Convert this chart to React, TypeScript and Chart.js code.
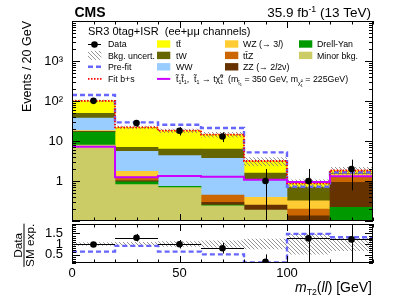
import React, { useEffect, useRef } from 'react';
import { Chart, registerables } from 'chart.js';

Chart.register(...registerables);

const FONT = '"Liberation Sans", Arial, Helvetica, sans-serif';

// ---------------- data ----------------
const binEdges = [0, 20, 40, 60, 80, 100, 120, 140];
const binLabels = ['0-20', '20-40', '40-60', '60-80', '80-100', '100-120', '120-140'];
const dataObs = [101, 28, 18, 13, 1, 1, 2];
const bkgTT = [52, 15, 11.8, 8.2, 1.58, 0.18, 0.28];
const bkgTW = [11.6, 1.46, 2.0, 2.62, 0.52, 0.376, 0.05];
const bkgWW = [19.5, 3.75, 3.55, 3.24, 0.67, 0, 0];
const bkgWZ = [0.6, 0.5, 0, 0, 0.14, 0.12, 0.26];
const bkgTTZ = [0.4, 0.22, 0, 0.154, 0, 0.065, 0.31];
const bkgZZ = [0.3, 0.07, 0, 0.043, 0.063, 0.085, 0.71];
const bkgDY = [8.9, 0.15, 0.06, 0.01, 0, 0.02, 0.17];
const bkgMinor = [7.9, 0.81, 0.68, 0.24, 0.188, 0.03, 0.05];
const preFit = [141, 29.3, 25.5, 21.1, 5.2, 0.72, 1.65];
const signalT2tt = [7.2, 1.24, 1.33, 1.28, 1.08, 0.95, 1.31];
const bkgRelUnc = [0.06, 0.09, 0.12, 0.16, 0.25, 0.25, 0.22];
const ratioObs = [0.98, 1.3, 0.99, 0.8, 0.16, 1.27, 1.22];
const ratioErrUp = [0.1, 0.18, 0.2, 0.25, 0.35, 1.3, 1.2];
const ratioErrDown = [0.1, 0.18, 0.2, 0.25, 0.16, 1.27, 1.22];
const ratioPreFit = [0.64, 0.91, 0.64, 0.51, 0.13, 1.48, 1.32];
const ratioUnc = [0.08, 0.1, 0.13, 0.17, 0.25, 0.5, 0.33];
const logLabelValues = [1, 10, 100, 1000];
const logLabelTexts = ['1', '10', '10²', '10³'];
const ratioTickValues = [0.5, 1, 1.5];
const xTickValues = [0, 50, 100];

const COL = {
  tt: '#ffff00', tw: '#666600', ww: '#99ccff', wz: '#ffcc33', ttz: '#cc6600',
  zz: '#663300', dy: '#009900', minor: '#cccc66', sig: '#cc00ff', pre: '#6666ff', fit: '#ff0000',
};

const stackList = [
  { label: 'Minor bkg.', vals: bkgMinor, color: COL.minor },
  { label: 'Drell-Yan', vals: bkgDY, color: COL.dy },
  { label: 'ZZ', vals: bkgZZ, color: COL.zz },
  { label: 'ttZ', vals: bkgTTZ, color: COL.ttz },
  { label: 'WZ', vals: bkgWZ, color: COL.wz },
  { label: 'WW', vals: bkgWW, color: COL.ww },
  { label: 'tW', vals: bkgTW, color: COL.tw },
  { label: 'tt', vals: bkgTT, color: COL.tt },
];

const centers = binEdges.slice(0, -1).map((e, i) => (e + binEdges[i + 1]) / 2);
const totals = binLabels.map((_, i) => stackList.reduce((a, s) => a + s.vals[i], 0));

function stepPts(vals: number[]) {
  const pts = vals.map((v, i) => ({ x: binEdges[i], y: v }));
  pts.push({ x: binEdges[binEdges.length - 1], y: vals[vals.length - 1] });
  return pts;
}

// ---------------- rich text ----------------
type Seg = { t?: string; s?: number; dy?: number; it?: boolean; b?: boolean; up?: string; dn?: string };
function segFont(size: number, seg: Seg) {
  return `${seg.it ? 'italic ' : ''}${seg.b ? 'bold ' : ''}${size * (seg.s ?? 1)}px ${FONT}`;
}
function segWidth(ctx: CanvasRenderingContext2D, size: number, seg: Seg) {
  ctx.font = segFont(size, seg);
  if (seg.up !== undefined || seg.dn !== undefined) {
    return Math.max(ctx.measureText(seg.up || '').width, ctx.measureText(seg.dn || '').width);
  }
  return ctx.measureText(seg.t || '').width;
}
function richWidth(ctx: CanvasRenderingContext2D, size: number, segs: Seg[]) {
  return segs.reduce((a, s) => a + segWidth(ctx, size, s), 0);
}
function drawRich(ctx: CanvasRenderingContext2D, x: number, y: number, size: number, segs: Seg[], color = '#000') {
  ctx.save();
  ctx.fillStyle = color;
  ctx.textAlign = 'left';
  ctx.textBaseline = 'alphabetic';
  let cx = x;
  for (const seg of segs) {
    const w = segWidth(ctx, size, seg);
    const dy = (seg.dy || 0) * size;
    if (seg.up !== undefined || seg.dn !== undefined) {
      if (seg.up) ctx.fillText(seg.up, cx, y + dy - size * 0.4);
      if (seg.dn) ctx.fillText(seg.dn, cx, y + dy + size * 0.22);
    } else {
      ctx.fillText(seg.t || '', cx, y + dy);
    }
    cx += w;
  }
  ctx.restore();
  return cx - x;
}

function makeHatch(): any {
  const c = document.createElement('canvas');
  c.width = 4;
  c.height = 4;
  const g = c.getContext('2d')!;
  g.strokeStyle = '#7a7a7a';
  g.lineWidth = 0.8;
  g.beginPath();
  for (const k of [-4, 0, 4]) {
    g.moveTo(k, 0);
    g.lineTo(k + 4, 4);
  }
  g.stroke();
  return g.createPattern(c, 'repeat') || '#999';
}

function hLine(ctx: CanvasRenderingContext2D, x1: number, x2: number, y: number) {
  ctx.beginPath();
  ctx.moveTo(x1, y);
  ctx.lineTo(x2, y);
  ctx.stroke();
}

function drawXTicks(ctx: CanvasRenderingContext2D, chart: any, xs: any) {
  const a = chart.chartArea;
  ctx.strokeStyle = '#000';
  ctx.lineWidth = 1;
  for (let v = 0; v <= 140; v += 10) {
    const p = Math.round(xs.getPixelForValue(v)) + 0.5;
    const len = v % 50 === 0 ? 7 : 3.5;
    ctx.beginPath();
    ctx.moveTo(p, a.bottom);
    ctx.lineTo(p, a.bottom - len);
    ctx.moveTo(p, a.top);
    ctx.lineTo(p, a.top + len);
    ctx.stroke();
  }
}

function drawFrame(ctx: CanvasRenderingContext2D, chart: any) {
  const a = chart.chartArea;
  ctx.strokeStyle = '#000';
  ctx.lineWidth = 1;
  ctx.strokeRect(Math.round(a.left) + 0.5, Math.round(a.top) + 0.5, Math.round(a.width) - 1, Math.round(a.height) - 1);
}

function mainPlugin(hatch: any) {
  return {
    id: 'mainDeco',
    afterDatasetsDraw(chart: any) {
      const { ctx, chartArea: a, scales } = chart;
      const xs = scales.xl;
      const ys = scales.y;
      ctx.save();
      ctx.beginPath();
      ctx.rect(a.left, a.top, a.width, a.height);
      ctx.clip();
      ctx.strokeStyle = '#000';
      ctx.lineWidth = 1;
      dataObs.forEach((v, i) => {
        const e = Math.sqrt(v);
        const px = Math.round(xs.getPixelForValue(centers[i])) + 0.5;
        const y1 = ys.getPixelForValue(v + e);
        const y2 = v - e > 0 ? ys.getPixelForValue(v - e) : a.bottom;
        ctx.beginPath();
        ctx.moveTo(px, y1);
        ctx.lineTo(px, y2);
        ctx.stroke();
      });
      ctx.restore();
    },
    afterDraw(chart: any) {
      const { ctx, chartArea: a, scales } = chart;
      const ys = scales.y;
      ctx.save();
      drawFrame(ctx, chart);
      ctx.strokeStyle = '#000';
      ctx.lineWidth = 1;
      for (let d = -1; d <= 4; d++) {
        for (let k = 1; k <= 9; k++) {
          const v = k * Math.pow(10, d);
          if (v < 0.1 - 1e-9 || v > 10000 + 1e-6) continue;
          const p = Math.round(ys.getPixelForValue(v)) + 0.5;
          const len = k === 1 ? 8 : 4;
          ctx.beginPath();
          ctx.moveTo(a.left, p);
          ctx.lineTo(a.left + len, p);
          ctx.moveTo(a.right, p);
          ctx.lineTo(a.right - len, p);
          ctx.stroke();
        }
      }
      drawXTicks(ctx, chart, scales.xl);

      ctx.fillStyle = '#000';
      ctx.font = `bold 14px ${FONT}`;
      ctx.textAlign = 'left';
      ctx.fillText('CMS', 74.5, 16.5);
      const lumi: Seg[] = [{ t: '35.9 fb' }, { t: '-1', s: 0.65, dy: -0.38 }, { t: ' (13 TeV)' }];
      const lw = richWidth(ctx, 13.5, lumi);
      drawRich(ctx, 371 - lw, 16.8, 13.5, lumi);

      ctx.save();
      ctx.translate(31, 21);
      ctx.rotate(-Math.PI / 2);
      ctx.font = `12.5px ${FONT}`;
      ctx.textAlign = 'right';
      ctx.fillStyle = '#000';
      ctx.fillText('Events / 20 GeV', 0, 0);
      ctx.restore();

      const fs = 8.8;
      ctx.font = `11px ${FONT}`;
      ctx.fillStyle = '#000';
      ctx.textAlign = 'left';
      ctx.fillText('SR3 0tag+ISR  (ee+μμ channels)', 88, 34.6);
      const rows = [44, 55.4, 66.8, 78.9];
      const tx = (segs: Seg[], x: number, r: number) => drawRich(ctx, x, rows[r] + 3.1, fs, segs);
      const box = (c: string, x: number, r: number) => {
        ctx.fillStyle = c;
        ctx.fillRect(x, rows[r] - 3.7, 13.3, 7.4);
      };
      ctx.strokeStyle = '#000';
      ctx.lineWidth = 1;
      hLine(ctx, 88, 101, rows[0] + 0.5);
      ctx.fillStyle = '#000';
      ctx.beginPath();
      ctx.arc(94.5, rows[0] + 0.5, 3.3, 0, Math.PI * 2);
      ctx.fill();
      tx([{ t: 'Data' }], 108, 0);
      ctx.fillStyle = hatch;
      ctx.fillRect(88, rows[1] - 4.5, 13.3, 9);
      tx([{ t: 'Bkg. uncert.' }], 108, 1);
      ctx.save();
      ctx.strokeStyle = COL.pre;
      ctx.lineWidth = 2.4;
      ctx.setLineDash([5, 3]);
      hLine(ctx, 88, 102, rows[2]);
      ctx.strokeStyle = COL.fit;
      ctx.lineWidth = 1.8;
      ctx.setLineDash([1.5, 1.5]);
      hLine(ctx, 88, 102, rows[3]);
      ctx.restore();
      tx([{ t: 'Pre-fit' }], 108, 2);
      tx([{ t: 'Fit b+s' }], 108, 3);
      box(COL.tt, 157, 0);
      tx([{ t: 't' }, { t: 't\u0304' }], 176, 0);
      box(COL.tw, 157, 1);
      tx([{ t: 'tW' }], 176, 1);
      box(COL.ww, 157, 2);
      tx([{ t: 'WW' }], 176, 2);
      ctx.save();
      ctx.strokeStyle = COL.sig;
      ctx.lineWidth = 2;
      hLine(ctx, 157, 170.3, rows[3]);
      ctx.restore();
      tx([
        { t: 't\u0303' }, { t: '1', s: 0.6, dy: 0.25 }, { t: 't\u0303' }, { t: '1', s: 0.6, dy: 0.25 },
        { t: ',  t\u0303' }, { t: '1', s: 0.6, dy: 0.25 }, { t: ' → t' }, { t: 'χ\u0303' },
        { up: '0', dn: '1', s: 0.6 }, { t: '  (m' }, { t: 't\u0303', s: 0.6, dy: 0.3 },
        { t: '1', s: 0.45, dy: 0.45 }, { t: ' = 350 GeV, m' }, { t: 'χ\u0303', s: 0.6, dy: 0.3 },
        { up: '0', dn: '1', s: 0.42, dy: 0.35 }, { t: ' = 225GeV)' },
      ], 176, 3);
      box(COL.wz, 225, 0);
      tx([{ t: 'WZ (→ 3' }, { t: 'l', it: true }, { t: ')' }], 243, 0);
      box(COL.ttz, 225, 1);
      tx([{ t: 't' }, { t: 't\u0304' }, { t: 'Z' }], 243, 1);
      box(COL.zz, 225, 2);
      tx([{ t: 'ZZ (→ 2' }, { t: 'l', it: true }, { t: '2ν)' }], 243, 2);
      box(COL.dy, 299, 0);
      tx([{ t: 'Drell-Yan' }], 317, 0);
      box(COL.minor, 299, 1);
      tx([{ t: 'Minor bkg.' }], 317, 1);
      ctx.restore();
    },
  };
}

const ratioPlugin = {
  id: 'ratioDeco',
  afterDatasetsDraw(chart: any) {
    const { ctx, chartArea: a, scales } = chart;
    const xs = scales.x;
    const ys = scales.y;
    ctx.save();
    ctx.beginPath();
    ctx.rect(a.left, a.top, a.width, a.height);
    ctx.clip();
    ctx.strokeStyle = '#000';
    ctx.lineWidth = 1;
    ratioObs.forEach((v, i) => {
      const px = Math.round(xs.getPixelForValue(centers[i])) + 0.5;
      const py = Math.round(ys.getPixelForValue(v)) + 0.5;
      ctx.beginPath();
      ctx.moveTo(px, ys.getPixelForValue(v + ratioErrUp[i]));
      ctx.lineTo(px, ys.getPixelForValue(v - ratioErrDown[i]));
      ctx.moveTo(xs.getPixelForValue(binEdges[i]), py);
      ctx.lineTo(xs.getPixelForValue(binEdges[i + 1]), py);
      ctx.stroke();
    });
    ctx.restore();
  },
  afterDraw(chart: any) {
    const { ctx, chartArea: a, scales } = chart;
    const ys = scales.y;
    ctx.save();
    drawFrame(ctx, chart);
    ctx.strokeStyle = '#000';
    ctx.lineWidth = 1;
    for (let k = 1; k <= 19; k++) {
      const v = k / 10;
      const p = Math.round(ys.getPixelForValue(v)) + 0.5;
      const len = k % 5 === 0 ? 8 : 4;
      ctx.beginPath();
      ctx.moveTo(a.left, p);
      ctx.lineTo(a.left + len, p);
      ctx.moveTo(a.right, p);
      ctx.lineTo(a.right - len, p);
      ctx.stroke();
    }
    drawXTicks(ctx, chart, scales.x);
    const xt: Seg[] = [{ t: 'm', it: true }, { t: 'T2', s: 0.62, dy: 0.25 }, { t: '(' }, { t: 'll', it: true }, { t: ') [GeV]' }];
    const w = richWidth(ctx, 14, xt);
    drawRich(ctx, 372 - w, 68.5, 14, xt);
    ctx.save();
    ctx.translate(0, 22.3);
    ctx.rotate(-Math.PI / 2);
    ctx.font = `11.8px ${FONT}`;
    ctx.fillStyle = '#000';
    ctx.textAlign = 'center';
    ctx.fillText('Data', 0, 21.5);
    ctx.fillText('SM exp.', 0, 33.8);
    const fw = ctx.measureText('SM exp.').width;
    ctx.strokeStyle = '#000';
    ctx.lineWidth = 1;
    ctx.beginPath();
    ctx.moveTo(-fw / 2, 24);
    ctx.lineTo(fw / 2, 24);
    ctx.stroke();
    ctx.restore();
    ctx.restore();
  },
};

const tickFont = { family: FONT, size: 13 };

export default function App() {
  const mainRef = useRef<HTMLCanvasElement>(null);
  const ratioRef = useRef<HTMLCanvasElement>(null);

  useEffect(() => {
    document.body.style.margin = '0';
    const hatch = makeHatch();

    const mainDatasets: any[] = [
      ...stackList.map((s) => ({
        type: 'bar', label: s.label, data: s.vals.map((v) => (v > 0 ? v : null)),
        backgroundColor: s.color, borderWidth: 0, xAxisID: 'x', yAxisID: 'y', stack: 'bkg',
        order: 10, barPercentage: 1, categoryPercentage: 1, grouped: false,
      })),
      {
        type: 'bar', label: 'Bkg. uncert.', data: totals.map((t, i) => [t * (1 - bkgRelUnc[i]), t * (1 + bkgRelUnc[i])]),
        backgroundColor: hatch, borderWidth: 0, xAxisID: 'x2', yAxisID: 'y', stack: 'unc', order: 5,
        barPercentage: 1, categoryPercentage: 1, inflateAmount: 0, grouped: false,
      },
      {
        type: 'line', label: 'Pre-fit', data: stepPts(preFit), stepped: 'before', borderColor: COL.pre,
        borderWidth: 2.4, borderDash: [5, 3], pointRadius: 0, fill: false, xAxisID: 'xl', yAxisID: 'y', stack: 'pre', order: 3,
      },
      {
        type: 'line', label: 'Fit b+s', data: stepPts(totals), stepped: 'before', borderColor: COL.fit,
        borderWidth: 1.8, borderDash: [1.5, 1.5], pointRadius: 0, fill: false, xAxisID: 'xl', yAxisID: 'y', stack: 'fit', order: 2,
      },
      {
        type: 'line', label: 'signal', data: [{ x: 0, y: 0.01 }, ...stepPts(signalT2tt)], stepped: 'before', borderColor: COL.sig,
        borderWidth: 2, pointRadius: 0, fill: false, xAxisID: 'xl', yAxisID: 'y', stack: 'sig', order: 1,
      },
      {
        type: 'line', label: 'Data', data: centers.map((c, i) => ({ x: c, y: dataObs[i] })), showLine: false,
        pointRadius: 3.3, pointBackgroundColor: '#000', pointBorderWidth: 0, xAxisID: 'xl', yAxisID: 'y', stack: 'obs', order: 0,
      },
    ];

    const main = new Chart(mainRef.current as HTMLCanvasElement, {
      type: 'bar',
      data: { labels: binLabels, datasets: mainDatasets },
      options: {
        responsive: false,
        maintainAspectRatio: false,
        animation: false,
        events: [],
        layout: { autoPadding: false, padding: { left: 0, right: 26, top: 21, bottom: 2 } },
        plugins: { legend: { display: false }, tooltip: { enabled: false } },
        scales: {
          x: { type: 'category', offset: true, display: false, grid: { offset: true } },
          x2: { type: 'category', offset: true, display: false, grid: { offset: true } },
          xl: { type: 'linear', min: 0, max: 140, offset: false, display: false, grid: { offset: false } },
          y: {
            type: 'logarithmic', min: 0.1, max: 10000, stacked: true,
            afterFit: (s: any) => { s.width = 72; s.paddingTop = 0; s.paddingBottom = 0; },
            afterBuildTicks: (s: any) => { s.ticks = logLabelValues.map((v) => ({ value: v })); },
            grid: { display: false, drawTicks: false }, border: { display: false },
            ticks: {
              autoSkip: false, padding: 9, color: '#000', font: tickFont,
              callback: (v: any) => {
                const idx = logLabelValues.findIndex((t) => Math.abs(t - Number(v)) < 1e-6 * t);
                return idx >= 0 ? logLabelTexts[idx] : '';
              },
            },
          },
        },
      } as any,
      plugins: [mainPlugin(hatch)],
    } as any);

    const ratio = new Chart(ratioRef.current as HTMLCanvasElement, {
      type: 'bar',
      data: {
        labels: binLabels,
        datasets: [
          {
            type: 'bar', data: ratioUnc.map((u) => [1 - u, 1 + u]), backgroundColor: hatch, borderWidth: 0,
            xAxisID: 'xc', yAxisID: 'y', barPercentage: 1, categoryPercentage: 1, order: 5, inflateAmount: 0, grouped: false,
          },
          {
            type: 'line', data: stepPts(ratioPreFit), stepped: 'before', borderColor: COL.pre, borderWidth: 2.4,
            borderDash: [5, 3], pointRadius: 0, fill: false, xAxisID: 'x', yAxisID: 'y', order: 3,
          },
          {
            type: 'line', data: centers.map((c, i) => ({ x: c, y: ratioObs[i] })), showLine: false,
            pointRadius: 3.3, pointBackgroundColor: '#000', pointBorderWidth: 0, xAxisID: 'x', yAxisID: 'y', order: 0,
          },
        ] as any,
      },
      options: {
        responsive: false,
        maintainAspectRatio: false,
        animation: false,
        events: [],
        layout: { autoPadding: false, padding: { left: 0, right: 26, top: 1, bottom: 0 } },
        plugins: { legend: { display: false }, tooltip: { enabled: false } },
        scales: {
          xc: { type: 'category', offset: true, display: false, grid: { offset: true } },
          x: {
            type: 'linear', min: 0, max: 140, position: 'bottom', offset: false,
            afterFit: (s: any) => { s.height = 38; s.paddingLeft = 0; s.paddingRight = 0; },
            afterBuildTicks: (s: any) => { s.ticks = xTickValues.map((v) => ({ value: v })); },
            grid: { display: false, drawTicks: false, offset: false }, border: { display: false },
            ticks: {
              autoSkip: false, maxRotation: 0, minRotation: 0, padding: 3, color: '#000', font: tickFont,
              callback: (v: any) => String(v),
            },
          },
          y: {
            type: 'linear', min: 0.1, max: 1.95,
            afterFit: (s: any) => { s.width = 72; s.paddingTop = 0; s.paddingBottom = 0; },
            afterBuildTicks: (s: any) => { s.ticks = ratioTickValues.map((v) => ({ value: v })); },
            grid: { display: false, drawTicks: false }, border: { display: false },
            ticks: {
              autoSkip: false, padding: 9, color: '#000', font: tickFont,
              callback: (v: any) => String(v),
            },
          },
        },
      } as any,
      plugins: [ratioPlugin],
    } as any);

    return () => {
      main.destroy();
      ratio.destroy();
    };
  }, []);

  return (
    <div style={{ position: 'fixed', left: 0, top: 0, width: 399, height: 301, background: '#fff' }}>
      <canvas ref={mainRef} width={399} height={223} style={{ position: 'absolute', left: 0, top: 0, width: 399, height: 223 }} />
      <canvas ref={ratioRef} width={399} height={78} style={{ position: 'absolute', left: 0, top: 223, width: 399, height: 78 }} />
    </div>
  );
}
